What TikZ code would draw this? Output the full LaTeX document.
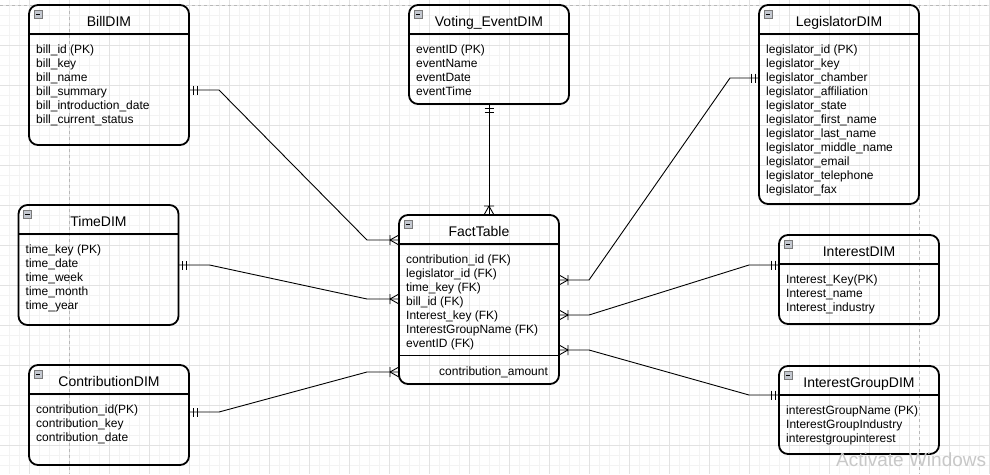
\documentclass[tikz,border=0pt]{standalone}
\usepackage{fontspec}
\setmainfont{Liberation Sans}
\usetikzlibrary{calc}
\definecolor{gridmaj}{HTML}{E2E2E2}
\definecolor{gridmin}{HTML}{F3F3F3}
\definecolor{pageline}{HTML}{B8B8B8}
\definecolor{iconfill}{HTML}{C4C8D0}
\definecolor{iconline}{HTML}{7A7A7A}
\definecolor{wmark}{HTML}{C8C8C8}
\tikzset{
  tbl/.style={draw=black, line width=1.8pt, rounded corners=9pt, inner sep=0pt, outer sep=0pt, minimum width=160pt},
  hdrline/.style={line width=1.8pt},
  sepline/.style={line width=1pt},
  ttl/.style={font=\fontsize{14}{16}\selectfont, inner sep=0pt, anchor=base},
  attrs/.style={font=\fontsize{12}{14}\selectfont, inner sep=0pt, anchor=north west, align=left},
  conn/.style={line width=0.9pt, black},
  tipline/.style={line width=0.9pt, black},
  gridminor/.style={draw=gridmin, line width=0.6pt},
  gridmajor/.style={draw=gridmaj, line width=0.8pt},
  pagebreak/.style={draw=pageline, line width=0.7pt, dash pattern=on 3pt off 3pt},
  crowfoot/.pic={\draw[tipline] (-9,0) -- (0,5) (-9,0) -- (0,-5) (-9,5) -- (-9,-5);},
  onebars/.pic={\draw[tipline] (4,4.5) -- (4,-4.5) (8,4.5) -- (8,-4.5);},
  minusicon/.pic={\draw[line width=0.7pt, draw=iconline, fill=iconfill] (0,0) rectangle (8,8);
                  \draw[line width=1pt] (1.8,4) -- (6.2,4);},
}
\newcommand{\ertable}[5]{%
  \node[tbl, minimum height=#3pt] (#1) at (#2) {};
  \draw[hdrline] ($(#1.north west)+(0,29)$) -- ($(#1.north east)+(0,29)$);
  \pic at ($(#1.north west)+(5,5)$) {minusicon};
  \node[ttl] (#1-title) at ($(#1.north)+(0,21.5)$) {#4};
  \node[attrs] (#1-attrs) at ($(#1.north west)+(7,39.3)$) {#5};
}
\begin{document}
\begin{tikzpicture}[x=1pt,y=-1pt]
\useasboundingbox (0,0) rectangle (990,474);
\fill[white] (0,0) rectangle (990,474);
% grid
\foreach \x in {9,19,...,989} \draw[gridminor] (\x,0) -- (\x,474);
\foreach \y in {5,15,...,474} \draw[gridminor] (0,\y) -- (990,\y);
\foreach \x in {29,69,...,989} \draw[gridmajor] (\x,0) -- (\x,474);
\foreach \y in {5,45,...,474} \draw[gridmajor] (0,\y) -- (990,\y);
\draw[pagebreak] (0,5) -- (990,5);
\draw[pagebreak] (69,5) -- (69,474);
\draw[pagebreak] (919,5) -- (919,474);

% tables
\ertable{bill}{109,75}{140}{BillDIM}{bill\_id (PK)\\bill\_key\\bill\_name\\bill\_summary\\bill\_introduction\_date\\bill\_current\_status}
\ertable{voting}{489,54.5}{99}{Voting\_EventDIM}{eventID (PK)\\eventName\\eventDate\\eventTime}
\ertable{legis}{839,104.5}{199}{LegislatorDIM}{legislator\_id (PK)\\legislator\_key\\legislator\_chamber\\legislator\_affiliation\\legislator\_state\\legislator\_first\_name\\legislator\_last\_name\\legislator\_middle\_name\\legislator\_email\\legislator\_telephone\\legislator\_fax}
\ertable{time}{98.5,265}{120}{TimeDIM}{time\_key (PK)\\time\_date\\time\_week\\time\_month\\time\_year}
\ertable{fact}{479,299.5}{169}{FactTable}{contribution\_id (FK)\\legislator\_id (FK)\\time\_key (FK)\\bill\_id (FK)\\Interest\_key (FK)\\InterestGroupName (FK)\\eventID (FK)}
\ertable{contrib}{109,415}{100}{ContributionDIM}{contribution\_id(PK)\\contribution\_key\\contribution\_date}
\ertable{interest}{859,279.5}{89}{InterestDIM}{Interest\_Key(PK)\\Interest\_name\\Interest\_industry}
\ertable{igroup}{859,410}{88}{InterestGroupDIM}{interestGroupName (PK)\\InterestGroupIndustry\\interestgroupinterest}
\draw[sepline] ($(fact.north west)+(0,140)$) -- ($(fact.north east)+(0,140)$);
\node[attrs, anchor=base west] (fact-amount) at ($(fact.north west)+(40,160)$) {contribution\_amount};

% connector end points
\coordinate (bill-c) at ($(bill.north east)+(0,85)$);
\coordinate (fact-b) at ($(fact.north west)+(0,25)$);
\coordinate (fact-t) at ($(fact.north west)+(0,84)$);
\coordinate (contrib-c) at ($(contrib.north east)+(0,47)$);
\coordinate (fact-c) at ($(fact.north west)+(0,157)$);
\coordinate (fact-v) at (voting.south |- fact.north);
\coordinate (fact-l) at ($(fact.north east)+(0,65)$);
\coordinate (legis-f) at ($(legis.north west)+(0,73)$);
\coordinate (fact-i) at ($(fact.north east)+(0,100)$);
\coordinate (interest-f) at ($(interest.north west)+(0,30)$);
\coordinate (fact-g) at ($(fact.north east)+(0,135)$);
\coordinate (igroup-f) at ($(igroup.north west)+(0,29)$);

% connectors
\draw[conn] (bill-c) -- ++(30,0) -- ($(fact-b)+(-32,0)$) -- (fact-b);
\draw[conn] (time.east) -- ++(31,0) -- ($(fact-t)+(-32,0)$) -- (fact-t);
\draw[conn] (contrib-c) -- ++(30,0) -- ($(fact-c)+(-32,0)$) -- (fact-c);
\draw[conn] (voting.south) -- (fact-v);
\draw[conn] (fact-l) -- ++(30,0) -- ($(legis-f)+(-29,0)$) -- (legis-f);
\draw[conn] (fact-i) -- ++(30,0) -- ($(interest-f)+(-30,0)$) -- (interest-f);
\draw[conn] (fact-g) -- ++(30,0) -- ($(igroup-f)+(-30,0)$) -- (igroup-f);

% cardinality marks
\pic at (bill-c) {onebars};
\pic at (time.east) {onebars};
\pic at (contrib-c) {onebars};
\pic[rotate=-90] at (voting.south) {onebars};
\pic[rotate=180] at (legis-f) {onebars};
\pic[rotate=180] at (interest-f) {onebars};
\pic[rotate=180] at (igroup-f) {onebars};
\pic at (fact-b) {crowfoot};
\pic at (fact-t) {crowfoot};
\pic at (fact-c) {crowfoot};
\pic[rotate=-90] at (fact-v) {crowfoot};
\pic[rotate=180] at (fact-l) {crowfoot};
\pic[rotate=180] at (fact-i) {crowfoot};
\pic[rotate=180] at (fact-g) {crowfoot};

\node[font=\fontsize{19}{23}\selectfont, text=wmark, anchor=base west, inner sep=0pt] (watermark) at (836,466) {Activate Windows};
\end{tikzpicture}
\end{document}
